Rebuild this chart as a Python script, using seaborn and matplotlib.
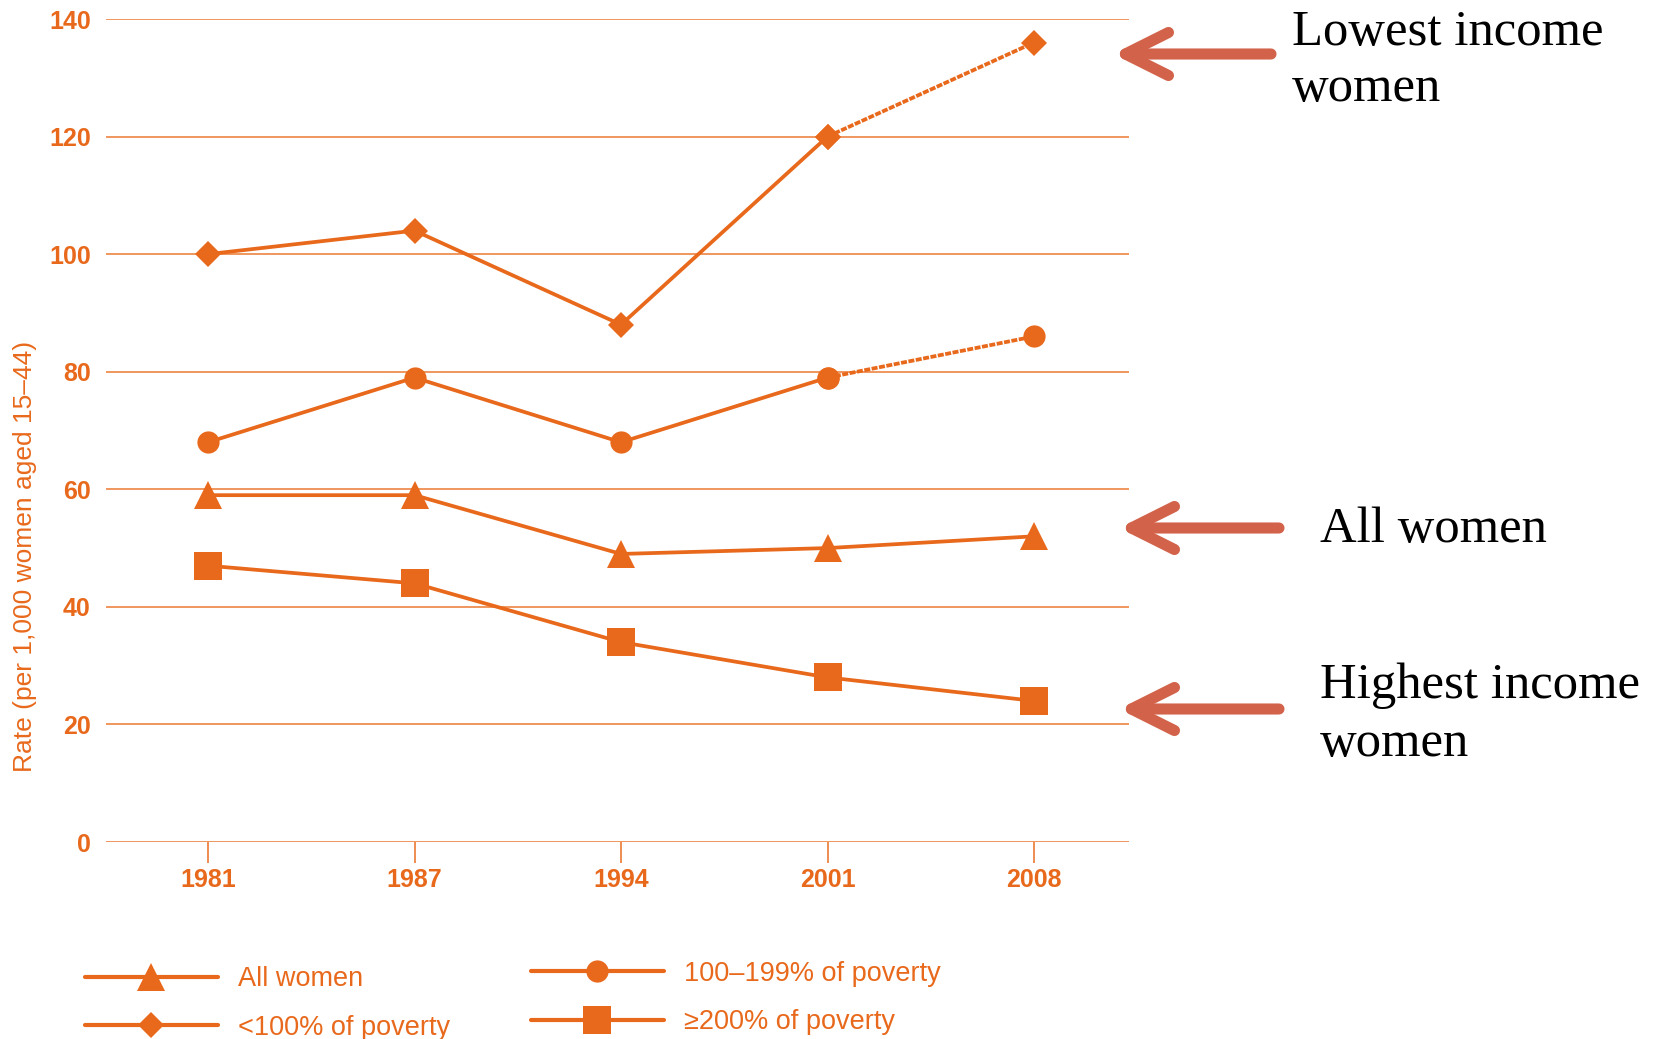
import numpy as np
import pandas as pd
import matplotlib
matplotlib.use("Agg")
import matplotlib.pyplot as plt
from matplotlib import font_manager
from matplotlib.lines import Line2D
from matplotlib.patches import FancyArrowPatch
import seaborn as sns

# ---- data ----
years = ["1981", "1987", "1994", "2001", "2008"]
series_names = ["All women", "<100% of poverty", "100\u2013199% of poverty", "\u2265200% of poverty"]
all_women = [59, 59, 49, 50, 52]
below_100 = [100, 104, 88, 120, 136]
pov_100_199 = [68, 79, 68, 79, 86]
above_200 = [47, 44, 34, 28, 24]
y_ticks = [0, 20, 40, 60, 80, 100, 120, 140]
y_label = "Rate (per 1,000 women aged 15\u201344)"
annot_lines = [["Lowest income", "women"], ["All women"], ["Highest income", "women"]]

sns.set_theme(style="white")
names = {f.name for f in font_manager.fontManager.ttflist}
narrow = "Liberation Sans Narrow" if "Liberation Sans Narrow" in names else "Liberation Sans"
serif = "Liberation Serif" if "Liberation Serif" in names else "DejaVu Serif"
plt.rcParams["font.family"] = [narrow, "DejaVu Sans"]

ORANGE = "#E8691C"
GRID = "#EE8D52"
ARROW = "#D2634A"

W, H = 1667, 1039
fig = plt.figure(figsize=(W / 100, H / 100), dpi=100)
ax = fig.add_axes([106 / W, 197 / H, (1129 - 106) / W, (1020 - 197) / H])

x = np.arange(len(years))
values = [all_women, below_100, pov_100_199, above_200]
markers = ["^", "D", "o", "s"]
msizes = [20, 13.5, 16, 19.5]
dotted_last = [False, True, True, False]
LW = 2.7

for vals, mk, ms, dl in zip(values, markers, msizes, dotted_last):
    vals = np.array(vals, dtype=float)
    if dl:
        sns.lineplot(x=x[:4], y=vals[:4], ax=ax, color=ORANGE, linewidth=LW,
                     marker=mk, markersize=ms, markeredgewidth=0, clip_on=False, zorder=3)
        sns.lineplot(x=x[3:], y=vals[3:], ax=ax, color=ORANGE, linewidth=LW,
                     linestyle=(0, (1.6, 0.4)), marker=mk, markersize=ms,
                     markeredgewidth=0, clip_on=False, zorder=3)
    else:
        sns.lineplot(x=x, y=vals, ax=ax, color=ORANGE, linewidth=LW,
                     marker=mk, markersize=ms, markeredgewidth=0, clip_on=False, zorder=3)

ax.set_xlim(-0.494, 4.46)
ax.set_ylim(0, 140)
ax.set_yticks(y_ticks)
ax.set_yticklabels([str(t) for t in y_ticks])
ax.set_xticks(x)
ax.set_xticklabels(years)
for s in ax.spines.values():
    s.set_visible(False)
ax.yaxis.grid(True, color=GRID, linewidth=1.3)
ax.xaxis.grid(False)
ax.set_axisbelow(True)
ax.tick_params(axis="y", length=0, pad=11, labelsize=18, labelcolor=ORANGE)
ax.tick_params(axis="x", bottom=True, direction="out", length=15, width=1.4,
               color=GRID, pad=4, labelsize=18, labelcolor=ORANGE)
for lab in ax.get_xticklabels() + ax.get_yticklabels():
    lab.set_fontweight("bold")
ax.set_xlabel("")
ax.set_ylabel(y_label, color=ORANGE, fontsize=19)
ax.yaxis.set_label_coords(-(106 - 37) / (1129 - 106), (1039 - 556 - 197) / (1020 - 197))

# ---- legend (two columns) ----
def handle(mk, ms):
    return Line2D([], [], color=ORANGE, linewidth=3, marker=mk, markersize=ms,
                  markeredgewidth=0)

hs = [handle(m, s) for m, s in zip(markers, msizes)]
leg_kw = dict(frameon=False, fontsize=19.5, handlelength=4.9, handletextpad=0.75,
              labelspacing=0.82, borderpad=0, borderaxespad=0, labelcolor=ORANGE,
              loc="center left", bbox_transform=fig.transFigure)
fig.legend([hs[0], hs[1]], [series_names[0], series_names[1]],
           bbox_to_anchor=(85 / W, 35.5 / H), **leg_kw)
fig.legend([hs[2], hs[3]], [series_names[2], series_names[3]],
           bbox_to_anchor=(531 / W, 41 / H), **leg_kw)

# ---- annotations ----
arrows = [(1113, 54, 1271), (1119, 528, 1279), (1119, 709, 1279)]
text_pos = [(1292, [45, 101]), (1320, [542]), (1320, [698, 756])]
for tipx, ty, tailx in arrows:
    fig.add_artist(FancyArrowPatch(
        posA=(tailx / W, 1 - ty / H), posB=(tipx / W, 1 - ty / H),
        transform=fig.transFigure, arrowstyle="->,head_length=3.1,head_width=1.55",
        mutation_scale=10, color=ARROW, linewidth=8, capstyle="round",
        joinstyle="round", shrinkA=0, shrinkB=0))
for (tx, baselines), lines in zip(text_pos, annot_lines):
    for bl, txt in zip(baselines, lines):
        fig.text(tx / W, 1 - bl / H, txt, family=[serif, "DejaVu Serif"], fontsize=36.5,
                 color="black", ha="left", va="baseline")

fig.savefig("out.png", dpi=100)
